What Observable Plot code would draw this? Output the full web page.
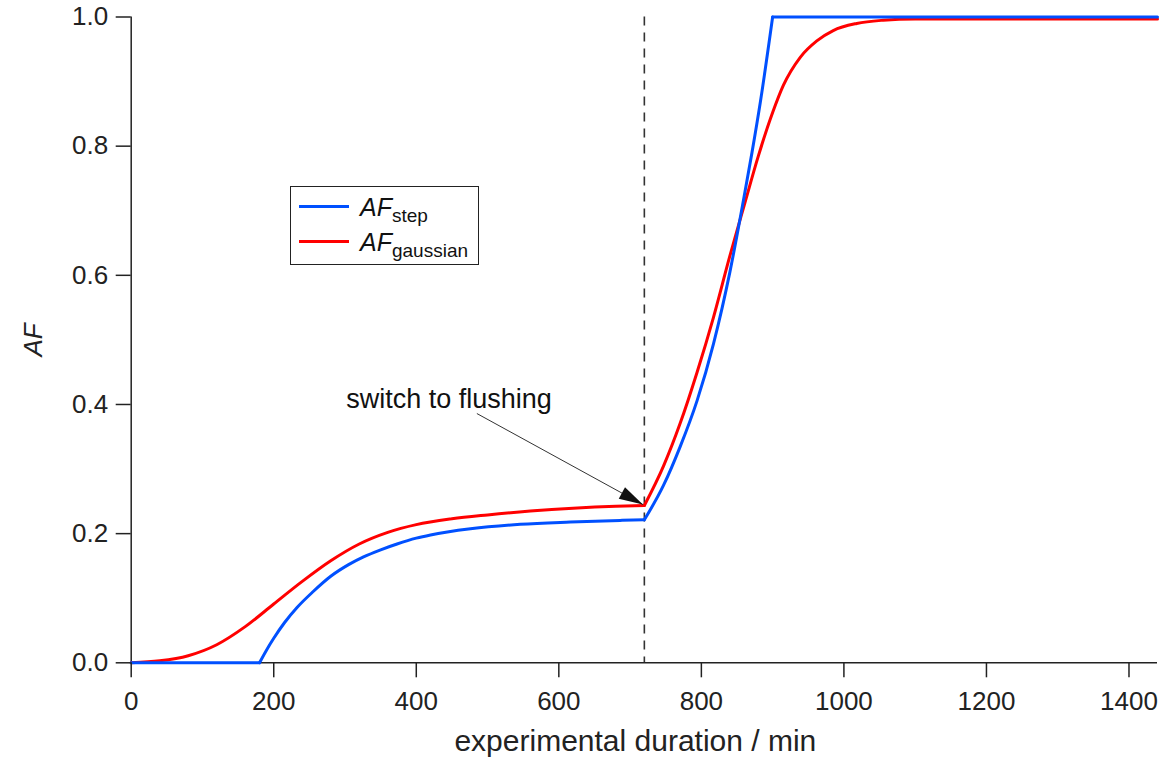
<!DOCTYPE html>
<html>
<head>
<meta charset="utf-8">
<script src="https://cdn.jsdelivr.net/npm/d3@7"></script>
<script src="https://cdn.jsdelivr.net/npm/@observablehq/plot@0.6"></script>
<style>
  body { margin: 0; background: #fff; }
  #wrap { position: relative; width: 1162px; height: 758px; font-family: "Liberation Sans", Arial, Helvetica, sans-serif; }
  #legend { position: absolute; left: 290px; top: 186px; width: 187px; height: 77px; border: 1.5px solid #222; background: #fff; }
</style>
</head>
<body>
<div id="wrap"></div>
<script>
// ---- data ----
// AF_step model (segments: before onset, loading, flushing, saturated)
const stepTime  = [0, 180,   180, 190, 200, 215, 233, 255, 280, 305, 326, 350, 373, 400, 420, 476, 546, 616, 686, 720,   720, 747, 770, 794, 817, 840, 859, 871, 883, 900,   900, 1440];
const stepAF    = [0, 0,     0, 0.020, 0.038, 0.062, 0.086, 0.110, 0.134, 0.152, 0.164, 0.175, 0.184, 0.193, 0.198, 0.2075, 0.2145, 0.218, 0.2205, 0.2214,   0.2214, 0.275, 0.334, 0.406, 0.494, 0.605, 0.716, 0.790, 0.870, 1.0,   1.0, 1.0];
const stepPhase = ["pre", "pre", "load","load","load","load","load","load","load","load","load","load","load","load","load","load","load","load","load","load", "flush","flush","flush","flush","flush","flush","flush","flush","flush","flush", "done","done"];

// AF_gaussian model (segments: loading, flushing)
const gaussTime  = [0, 40, 80, 120, 160, 200, 240, 280, 320, 360, 400, 450, 500, 560, 620, 680, 720,   720, 747, 770, 794, 817, 840, 860, 880, 900, 915, 939, 962, 985, 1018, 1055, 1100, 1200, 1440];
const gaussAF    = [0, 0.003, 0.011, 0.028, 0.056, 0.091, 0.126, 0.158, 0.184, 0.202, 0.214, 0.223, 0.229, 0.235, 0.2395, 0.2425, 0.2436,   0.2436, 0.305, 0.370, 0.450, 0.535, 0.630, 0.708, 0.785, 0.852, 0.894, 0.938, 0.963, 0.979, 0.990, 0.995, 0.997, 0.997, 0.997];
const gaussPhase = ["load","load","load","load","load","load","load","load","load","load","load","load","load","load","load","load","load", "flush","flush","flush","flush","flush","flush","flush","flush","flush","flush","flush","flush","flush","flush","flush","flush","flush","flush"];

const flushTime = [720];
const xTicks = [0, 200, 400, 600, 800, 1000, 1200, 1400];
const yTicks = [0, 0.2, 0.4, 0.6, 0.8, 1.0];
const xLabel = ["experimental duration / min"];
const yLabel = ["AF"];
const annotationText = ["switch to flushing"];
const annotationTextPos = [{t: 446, v: 0.395}];
const annotationArrow = [{t1: 485, v1: 0.386, t2: 718, v2: 0.245}];
const seriesNames = ["step", "gaussian"];
const seriesColors = ["#0050ff", "#ff0000"];

// ---- build tables ----
const stepRows = stepTime.map((t, i) => ({t, v: stepAF[i], phase: stepPhase[i]}));
const gaussRows = gaussTime.map((t, i) => ({t, v: gaussAF[i], phase: gaussPhase[i]}));

const W = 1162, H = 758, mL = 130.7, mR = 5, mT = 16.5, mB = 95.7;
const xDomain = [0, 1440], yDomain = [0, 1];
const px = t => mL + (t - xDomain[0]) / (xDomain[1] - xDomain[0]) * (W - mL - mR);
const py = v => H - mB - (v - yDomain[0]) / (yDomain[1] - yDomain[0]) * (H - mT - mB);
const a = annotationArrow[0];
const ang = Math.atan2(py(a.v2) - py(a.v1), px(a.t2) - px(a.t1));
const headLen = 24, headHalf = 6.5;
const arrowHead = {
  draw(ctx) {
    const c = Math.cos(ang), s = Math.sin(ang);
    const bx = -headLen * c, by = -headLen * s;
    ctx.moveTo(0, 0);
    ctx.lineTo(bx - headHalf * s, by + headHalf * c);
    ctx.lineTo(bx + headHalf * s, by - headHalf * c);
    ctx.closePath();
  }
};

const font = '"Liberation Sans", Arial, Helvetica, sans-serif';
const chart = Plot.plot({
  width: W, height: H,
  marginLeft: mL, marginRight: mR, marginTop: mT, marginBottom: mB,
  style: {fontFamily: font, fontSize: "26px", color: "#222", background: "#fff", overflow: "visible"},
  x: {domain: xDomain},
  y: {domain: yDomain},
  marks: [
    Plot.ruleX([0], {stroke: "#222", strokeWidth: 1.5}),
    Plot.ruleY([0], {stroke: "#222", strokeWidth: 1.5}),
    Plot.ruleX(flushTime, {x: d => d, stroke: "#333", strokeWidth: 1.6, strokeDasharray: "9,7"}),
    Plot.line(gaussRows, {x: "t", y: "v", z: "phase", stroke: seriesColors[1], strokeWidth: 3, curve: "monotone-x"}),
    Plot.line(stepRows, {x: "t", y: "v", z: "phase", stroke: seriesColors[0], strokeWidth: 3, curve: "monotone-x"}),
    Plot.axisX({ticks: xTicks, tickSize: 15, tickPadding: 14, fontSize: 26, label: null, strokeWidth: 1.5, tickFormat: d => String(d)}),
    Plot.axisY({ticks: yTicks, tickSize: 15, tickPadding: 8, fontSize: 26, label: null, strokeWidth: 1.5, tickFormat: d => d.toFixed(1)}),
    Plot.text(xLabel, {text: d => d, frameAnchor: "bottom", dx: -9, dy: 88, lineAnchor: "bottom", textAnchor: "middle", fontSize: 30}),
    Plot.text(yLabel, {text: d => d, frameAnchor: "left", dx: -98, rotate: -90, textAnchor: "middle", fontStyle: "italic", fontSize: 26}),
    Plot.link(annotationArrow, {x1: "t1", y1: "v1", x2: "t2", y2: "v2", stroke: "#333", strokeWidth: 1}),
    Plot.dot(annotationArrow, {x: "t2", y: "v2", symbol: arrowHead, fill: "#111", stroke: "none"}),
    Plot.text(annotationTextPos, {x: "t", y: "v", text: () => annotationText[0], lineAnchor: "bottom", textAnchor: "middle", fontSize: 27, fill: "#111"})
  ]
});
const wrap = document.getElementById("wrap");
wrap.appendChild(chart);

// legend box
const legend = document.createElement("div");
legend.id = "legend";
const ns = "http://www.w3.org/2000/svg";
const lsvg = document.createElementNS(ns, "svg");
lsvg.setAttribute("width", 187); lsvg.setAttribute("height", 77);
lsvg.style.position = "absolute"; lsvg.style.left = "0"; lsvg.style.top = "0";
seriesNames.forEach((name, i) => {
  const yLine = 19.5 + i * 35;
  const ln = document.createElementNS(ns, "line");
  ln.setAttribute("x1", 8); ln.setAttribute("x2", 58);
  ln.setAttribute("y1", yLine); ln.setAttribute("y2", yLine);
  ln.setAttribute("stroke", seriesColors[i]); ln.setAttribute("stroke-width", 3);
  lsvg.appendChild(ln);
  const tx = document.createElementNS(ns, "text");
  tx.setAttribute("x", 69); tx.setAttribute("y", yLine + 9);
  tx.setAttribute("font-family", font); tx.setAttribute("fill", "#111");
  const t1 = document.createElementNS(ns, "tspan");
  t1.setAttribute("font-style", "italic"); t1.setAttribute("font-size", 25);
  t1.textContent = "AF";
  const t2 = document.createElementNS(ns, "tspan");
  t2.setAttribute("font-size", 19); t2.setAttribute("dy", 6);
  t2.textContent = name;
  tx.appendChild(t1); tx.appendChild(t2);
  lsvg.appendChild(tx);
});
legend.appendChild(lsvg);
wrap.appendChild(legend);
</script>
</body>
</html>
